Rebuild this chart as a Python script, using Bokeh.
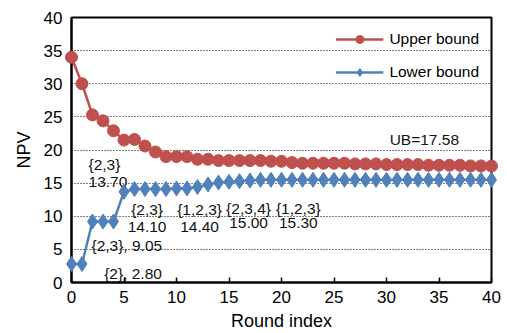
from bokeh.plotting import figure
from bokeh.models import Range1d, Legend, LegendItem, FixedTicker, ColumnDataSource
from bokeh.embed import file_html
from bokeh.resources import INLINE
from bokeh.core.properties import value

# ---- data ----
rounds = list(range(41))
upper = [34.0, 30.0, 25.3, 24.4, 22.9, 21.5, 21.6, 20.6, 19.7, 19.0,
         19.0, 19.0, 18.6, 18.6, 18.4, 18.4, 18.4, 18.4, 18.4, 18.3,
         18.3, 18.1, 18.0, 18.0, 18.0, 18.0, 18.0, 17.9, 17.9, 17.9,
         17.8, 17.8, 17.8, 17.8, 17.7, 17.7, 17.7, 17.7, 17.6, 17.6, 17.58]
lower = [2.8, 2.8, 9.2, 9.2, 9.2, 13.7, 14.1, 14.1, 14.1, 14.1,
         14.2, 14.2, 14.4, 14.8, 15.1, 15.2, 15.3, 15.4, 15.5, 15.5,
         15.5, 15.5, 15.5, 15.5, 15.5, 15.5, 15.5, 15.5, 15.5, 15.5,
         15.5, 15.5, 15.5, 15.5, 15.5, 15.5, 15.5, 15.5, 15.5, 15.5, 15.5]
x_ticks = [0, 5, 10, 15, 20, 25, 30, 35, 40]
y_ticks = [0, 5, 10, 15, 20, 25, 30, 35, 40]
series_names = ["Upper bound", "Lower bound"]

# annotation texts and their anchors (data units)
ann_left_text = ["{2,3}", "13.70", "{2,3}, 9.05", "{2}, 2.80", "UB=17.58"]
ann_left_x = [1.62, 1.62, 1.9, 3.11, 30.3]
ann_left_y = [17.74, 15.18, 5.58, 1.31, 21.6]
ann_center_text = ["{2,3}", "14.10", "{1,2,3}", "14.40", "{2,3,4}", "15.00", "{1,2,3}", "15.30"]
ann_center_x = [7.2, 7.2, 12.2, 12.2, 16.86, 16.86, 21.6, 21.6]
ann_center_y = [10.96, 8.44, 10.96, 8.44, 11.2, 8.95, 11.2, 8.95]

RED = "#C0504D"
BLUE = "#4F81BD"
FONT = "Liberation Sans"

p = figure(width=507, height=333, output_backend="svg", toolbar_location=None,
           x_range=Range1d(0, 40), y_range=Range1d(0, 40),
           min_border_left=71, min_border_right=16, min_border_top=17, min_border_bottom=50)
p.background_fill_color = "white"
p.border_fill_color = "white"
p.outline_line_color = "black"
p.outline_line_width = 2

up_line = p.line(rounds, upper, line_color=RED, line_width=2.5, level="overlay")
up_pts = p.scatter(rounds, upper, marker="circle", size=12, fill_color=RED, line_color=RED,
                   level="overlay")
lo_line = p.line(rounds, lower, line_color=BLUE, line_width=2.5, level="overlay")
lo_pts = p.scatter(rounds, lower, marker="diamond", size=15, fill_color=BLUE, line_color=BLUE,
                   level="overlay")

src_l = ColumnDataSource(dict(x=ann_left_x, y=ann_left_y, t=ann_left_text))
src_c = ColumnDataSource(dict(x=ann_center_x, y=ann_center_y, t=ann_center_text))
p.text(x="x", y="y", text="t", source=src_l, text_align="left", text_baseline="middle",
       text_font=value(FONT), text_font_size="15.5px", text_color="#111111")
p.text(x="x", y="y", text="t", source=src_c, text_align="center", text_baseline="middle",
       text_font=value(FONT), text_font_size="15.5px", text_color="#111111")

# axes
p.xaxis.ticker = FixedTicker(ticks=x_ticks)
p.yaxis.ticker = FixedTicker(ticks=y_ticks)
p.xaxis.axis_label = "Round index"
p.yaxis.axis_label = "NPV"
for ax in (p.xaxis, p.yaxis):
    ax.axis_line_color = "black"
    ax.axis_line_width = 2
    ax.minor_tick_line_color = None
    ax.major_label_text_font = FONT
    ax.major_label_text_font_size = "17px"
    ax.major_label_text_color = "black"
    ax.axis_label_text_font = FONT
    ax.axis_label_text_font_size = "18px"
    ax.axis_label_text_font_style = "normal"
    ax.axis_label_text_color = "black"
p.xaxis.major_tick_in = 5
p.xaxis.major_tick_out = 0
p.xaxis.major_tick_line_color = "black"
p.xaxis.major_tick_line_width = 1.5
p.xaxis.major_label_standoff = 8
p.xaxis.axis_label_standoff = 5
p.yaxis.major_tick_in = 0
p.yaxis.major_tick_out = 0
p.yaxis.major_label_standoff = 9
p.yaxis.axis_label_standoff = 7

p.xgrid.visible = False
p.ygrid.ticker = FixedTicker(ticks=y_ticks)
p.ygrid.grid_line_color = "black"
p.ygrid.grid_line_dash = "1 2"
p.ygrid.grid_line_width = 1

legend = Legend(items=[LegendItem(label=series_names[0], renderers=[up_line, up_pts]),
                       LegendItem(label=series_names[1], renderers=[lo_line, lo_pts])],
                location="top_right", border_line_color=None, background_fill_alpha=0,
                label_text_font=FONT, label_text_font_size="15.5px", label_text_color="black",
                glyph_width=48, glyph_height=20, label_height=20, spacing=13,
                padding=12, margin=12, label_standoff=6)
p.add_layout(legend)

open("out.html", "w").write(file_html(p, INLINE))
